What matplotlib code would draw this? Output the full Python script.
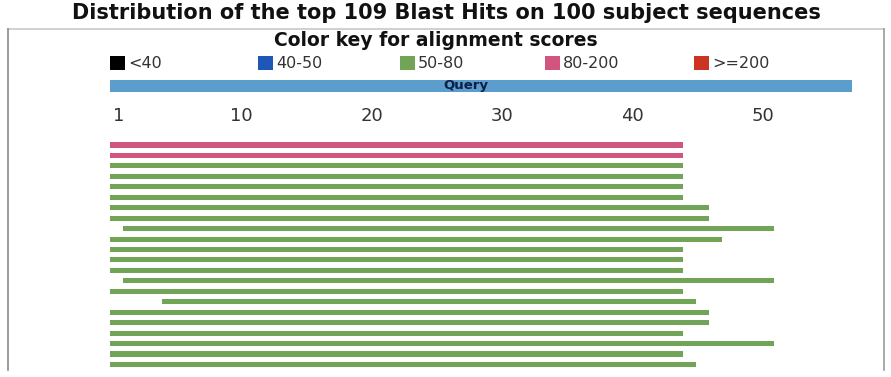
import matplotlib.pyplot as plt
from matplotlib.patches import Rectangle
from matplotlib.lines import Line2D

# colour key for alignment scores
score_bins = ['<40', '40-50', '50-80', '80-200', '>=200']
score_colors = ['#000000', '#1f57b8', '#72a457', '#d2557f', '#cc3322']

query_len = 57
tick_vals = [1, 10, 20, 30, 40, 50]

# hits: first/last aligned query residue and score bin (index into score_bins)
hit_start = [1, 1, 1, 1, 1, 1, 1, 1, 2, 1, 1, 1, 1, 2, 1, 5, 1, 1, 1, 1, 1, 1]
hit_end = [44, 44, 44, 44, 44, 44, 46, 46, 51, 47, 44, 44, 44, 51, 44, 45, 46, 46, 44, 51, 44, 45]
hit_bin = [3, 3, 2, 2, 2, 2, 2, 2, 2, 2, 2, 2, 2, 2, 2, 2, 2, 2, 2, 2, 2, 2]

W, H = 891, 377
fig = plt.figure(figsize=(W / 100, H / 100), dpi=100)


def fx(px):
    return px / W


def fy(py):
    return 1 - py / H


# frame around the graphic
frame = dict(transform=fig.transFigure, lw=1.2)
fig.add_artist(Line2D([fx(8), fx(884)], [fy(29), fy(29)], color='#c8c8c8', **frame))
fig.add_artist(Line2D([fx(8), fx(8)], [fy(29), fy(370)], color='#8a8a8a', **frame))
fig.add_artist(Line2D([fx(884), fx(884)], [fy(29), fy(370)], color='#9a9a9a', **frame))

fig.text(fx(446), fy(13), 'Distribution of the top 109 Blast Hits on 100 subject sequences',
         ha='center', va='center', fontsize=15, fontweight='bold', family='DejaVu Sans',
         color='#111111')
fig.text(fx(436), fy(40), 'Color key for alignment scores', ha='center', va='center',
         fontsize=13.5, fontweight='bold', family='DejaVu Sans', color='#111111')

# colour key swatches
key_x = [110, 258, 400, 545, 694]
for kx, lab, col in zip(key_x, score_bins, score_colors):
    fig.add_artist(Rectangle((fx(kx), fy(70)), fx(15), 14 / H, transform=fig.transFigure,
                             facecolor=col, edgecolor='none'))
    fig.text(fx(kx + 18), fy(63), lab, ha='left', va='center', fontsize=11.5,
             family='DejaVu Sans', color='#333333')

# query bar with position labels
ax_q = fig.add_axes([fx(110), fy(92), fx(852) - fx(110), 12 / H])
ax_q.barh(0, query_len, left=0, height=1, color='#5b9dcc')
ax_q.set_xlim(0, query_len)
ax_q.set_ylim(-0.5, 0.5)
ax_q.axis('off')
ax_q.text(27.3, 0.05, 'Query', ha='center', va='center', fontsize=9.5, fontweight='bold',
          color='#0b1f47')
for v in tick_vals:
    ax_q.text(v - 0.75, -2.5, str(v), ha='left', va='center', fontsize=13,
              color='#333333', clip_on=False)

# hit bars
ax = fig.add_axes([fx(110), fy(372), fx(852) - fx(110), (372 - 138) / H])
rows = list(range(len(hit_start)))
lefts = [s - 1 for s in hit_start]
widths = [e - s + 1 for s, e in zip(hit_start, hit_end)]
colors = [score_colors[b] for b in hit_bin]
ax.barh(rows, widths, left=lefts, height=0.48, color=colors)
ax.set_xlim(0, query_len)
ax.set_ylim((372 - 145) / 10.45, (138 - 145) / 10.45)
ax.axis('off')

fig.savefig('out.png', dpi=100)
